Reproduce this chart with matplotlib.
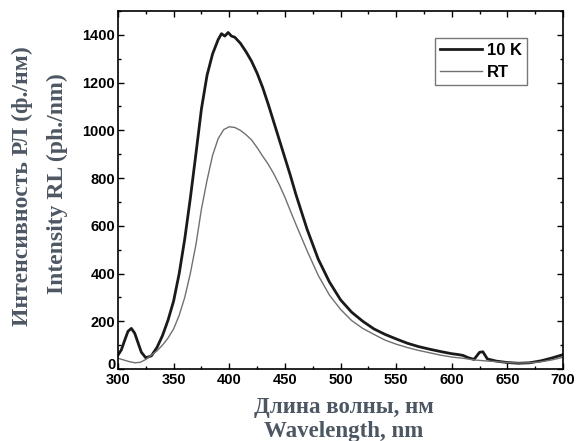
import matplotlib
matplotlib.use("Agg")
from matplotlib import pyplot as plt
from matplotlib.ticker import MultipleLocator

# 10 K spectrum
wl_10k = [300, 303, 306, 309, 312, 315, 318, 321, 325, 330, 335, 340, 345, 350, 355, 360, 365, 370,
          375, 380, 385, 390, 393, 396, 399, 402, 405, 410, 415, 420, 425, 430, 435, 440, 445, 450,
          455, 460, 470, 480, 490, 500, 510, 520, 530, 540, 550, 560, 570, 580, 590, 600, 605,
          610, 615, 620, 625, 628, 632, 640, 650, 660, 670, 680, 690, 700]
int_10k = [58, 80, 120, 158, 170, 150, 110, 70, 47, 55, 90, 140, 205, 285, 400, 545, 715, 900,
           1090, 1230, 1320, 1380, 1405, 1395, 1410, 1395, 1390, 1365, 1330, 1290, 1240, 1180, 1110, 1035, 960, 885,
           810, 730, 585, 460, 365, 290, 238, 200, 168, 145, 126, 108, 94, 83, 73, 64, 61,
           57, 47, 40, 70, 72, 42, 33, 27, 24, 26, 34, 46, 60]

# room temperature spectrum
wl_rt = [300, 305, 310, 315, 320, 325, 330, 335, 340, 345, 350, 355, 360, 365, 370, 375,
         380, 385, 390, 395, 400, 405, 410, 415, 420, 425, 430, 435, 440, 445, 450, 455, 460, 470, 480,
         490, 500, 510, 520, 530, 540, 550, 560, 570, 580, 590, 600, 610, 620, 630, 640,
         650, 660, 670, 680, 690, 700]
int_rt = [45, 38, 31, 26, 28, 40, 58, 76, 100, 130, 168, 225, 300, 400, 520, 670,
          790, 895, 965, 1003, 1015, 1012, 1000, 982, 960, 928, 892, 858, 818, 772, 720, 662, 605, 495, 392,
          310, 250, 203, 170, 145, 121, 104, 90, 78, 68, 58, 50, 45, 38, 34, 31,
          27, 25, 26, 30, 38, 49]

label_color = '#4d5763'

fig = plt.figure(figsize=(5.79, 4.41), dpi=100)
ax = fig.add_axes([0.2038, 0.1633, 0.7686, 0.8117])
ax.plot(wl_10k, int_10k, color='#1a1a1a', lw=2.0, label='10 K')
ax.plot(wl_rt, int_rt, color='#707070', lw=1.0, label='RT')

ax.set_xlim(300, 700)
ax.set_ylim(0, 1500)
ax.xaxis.set_major_locator(MultipleLocator(50))
ax.xaxis.set_minor_locator(MultipleLocator(25))
ax.yaxis.set_major_locator(MultipleLocator(200))
ax.yaxis.set_minor_locator(MultipleLocator(100))
ax.tick_params(which='both', direction='in', top=True, right=True, width=1)
ax.tick_params(which='major', length=4)
ax.tick_params(which='minor', length=2)
ax.tick_params(axis='x', pad=3)
ax.tick_params(axis='y', pad=2)
fig.canvas.draw()
for lab in ax.get_xticklabels() + ax.get_yticklabels():
    lab.set_fontfamily('Liberation Sans')
    lab.set_fontweight('bold')
    lab.set_fontsize(10.5)
# the "0" sits just above the axis line, like the original
for lab in ax.get_yticklabels():
    if lab.get_text() == '0':
        lab.set_verticalalignment('baseline')
for s in ax.spines.values():
    s.set_linewidth(1.2)

leg = ax.legend(loc='upper left', bbox_to_anchor=(0.712, 0.926), borderaxespad=0,
                frameon=True, fancybox=False, edgecolor='#555555',
                handlelength=2.5, handletextpad=0.35, borderpad=0.3, labelspacing=0.45,
                prop={'family': 'Liberation Sans', 'weight': 'bold', 'size': 12})
leg.get_frame().set_linewidth(1.0)

fig.text(22 / 579, 1 - 186 / 441, 'Интенсивность РЛ (ф./нм)', rotation=90, ha='center', va='center',
         family='Liberation Serif', weight='bold', size=17, color=label_color)
fig.text(57 / 579, 1 - 184 / 441, 'Intensity RL (ph./nm)', rotation=90, ha='center', va='center',
         family='Liberation Serif', weight='bold', size=17, color=label_color)
fig.text(344 / 579, 1 - 408 / 441, 'Длина волны, нм', ha='center', va='center',
         family='Liberation Serif', weight='bold', size=16.5, color=label_color)
fig.text(344 / 579, 1 - 432 / 441, 'Wavelength, nm', ha='center', va='center',
         family='Liberation Serif', weight='bold', size=16.5, color=label_color)

fig.savefig('out.png', dpi=100)
